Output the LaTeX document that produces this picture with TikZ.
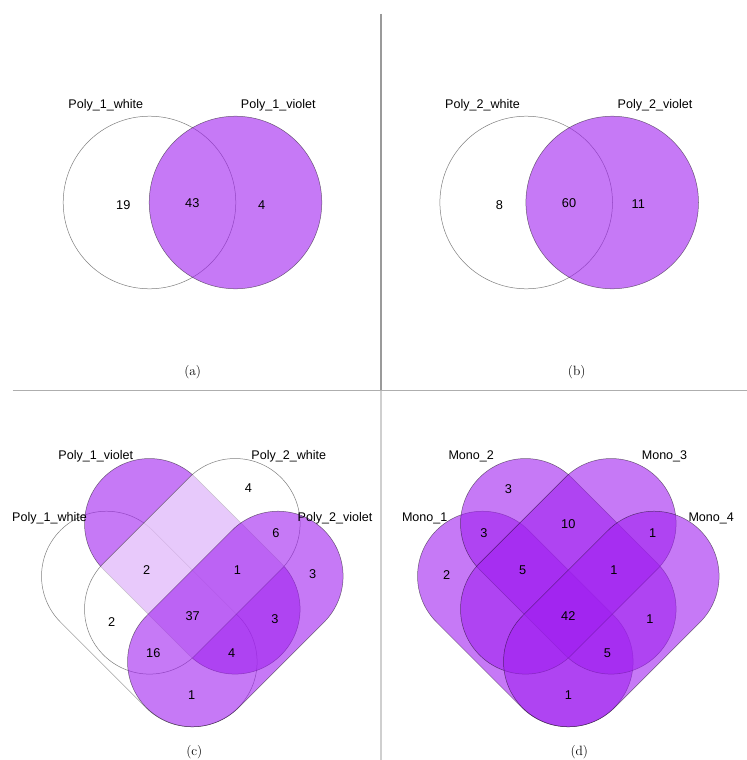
\documentclass[tikz,border=0pt]{standalone}
\usepackage{fontspec}
\setsansfont{Liberation Sans}
\definecolor{vennviolet}{HTML}{A020F0}
\definecolor{rulegray}{HTML}{9A9A9A}
\definecolor{rulelight}{HTML}{CFCFCF}

\begin{document}
\begin{tikzpicture}[x=1bp,y=-1bp]
    \tikzstyle{venn}=[draw=black,draw opacity=0.5,line width=0.5pt,fill opacity=0.6]
    \tikzstyle{violet}=[venn,fill=vennviolet]
    \tikzstyle{blank}=[venn,fill=white]
    \tikzstyle{setlabel}=[font=\sffamily\fontsize{12.6}{14}\selectfont,inner sep=0pt]
    \tikzstyle{count}=[font=\sffamily\fontsize{12.8}{14}\selectfont,inner sep=0pt]
    \tikzstyle{caption}=[font=\rmfamily\fontsize{13.5}{15}\selectfont,inner sep=0pt]
    \tikzset{lobe/.pic={\path[pic actions] (-60.5,-65) -- (60.5,-65)
        arc[start angle=-90,end angle=90,radius=65] -- (-60.5,65)
        arc[start angle=90,end angle=270,radius=65] -- cycle;}}
    \useasboundingbox (0,0) rectangle (747,760);
    % Frame
    \draw[rulegray,line width=1.2pt] (381,14) -- (381,390.7);
    \draw[rulelight,line width=1.2pt] (381,390.7) -- (381,760);
    \draw[rulegray!80,line width=0.9pt] (12.7,390.7) -- (747,390.7);
    % (a)
    \draw[blank] (149.5,202.5) circle[radius=86.3];
    \draw[violet] (235.5,202.5) circle[radius=86.3];
    \node[setlabel] (a1) at (105.8,105.5) {Poly\_1\_white};
    \node[setlabel] (a2) at (278.3,105.5) {Poly\_1\_violet};
    \node[count] (a10) at (123.3,205) {19};
    \node[count] (a11) at (192.3,203.5) {43};
    \node[count] (a01) at (261.7,205) {4};
    \node[caption] (capa) at (192.7,372) {(a)};
    % (b)
    \draw[blank] (526.2,202.5) circle[radius=86.3];
    \draw[violet] (612.2,202.5) circle[radius=86.3];
    \node[setlabel] (b1) at (482.5,105.5) {Poly\_2\_white};
    \node[setlabel] (b2) at (655,105.5) {Poly\_2\_violet};
    \node[count] (b10) at (499.3,205) {8};
    \node[count] (b11) at (569,203.5) {60};
    \node[count] (b01) at (638.3,204) {11};
    \node[caption] (capb) at (576.7,372) {(b)};
    % (c)
    \pic[blank,rotate=-45] at (149.3,619) {lobe};
    \pic[violet,rotate=-45] at (192.3,566.3) {lobe};
    \pic[blank,rotate=45] at (192.3,566.3) {lobe};
    \pic[violet,rotate=45] at (235.3,619) {lobe};
    \node[setlabel] (c2) at (95.8,456.7) {Poly\_1\_violet};
    \node[setlabel] (c3) at (288.8,456.7) {Poly\_2\_white};
    \node[setlabel] (c1) at (49.5,518.3) {Poly\_1\_white};
    \node[setlabel] (c4) at (335,518.3) {Poly\_2\_violet};
    \node[count] (c0010) at (248.3,487.7) {4};
    \node[count] (c0011) at (276,533.3) {6};
    \node[count] (c1110) at (146.7,570) {2};
    \node[count] (c0111) at (237.3,570) {1};
    \node[count] (c0001) at (312.7,574.3) {3};
    \node[count] (c1010) at (111.7,621.7) {2};
    \node[count] (c1111) at (192.7,615.7) {37};
    \node[count] (c0101) at (275,619.3) {3};
    \node[count] (c1011) at (153.3,652.7) {16};
    \node[count] (c1101) at (231.7,652.7) {4};
    \node[count] (c1001) at (191.7,695) {1};
    \node[caption] (capc) at (194.3,751.7) {(c)};
    % (d)
    \pic[violet,rotate=-45] at (525.3,619) {lobe};
    \pic[violet,rotate=-45] at (568.3,566.3) {lobe};
    \pic[violet,rotate=45] at (568.3,566.3) {lobe};
    \pic[violet,rotate=45] at (611.3,619) {lobe};
    \node[setlabel] (d2) at (471.2,456.7) {Mono\_2};
    \node[setlabel] (d3) at (664.5,456.7) {Mono\_3};
    \node[setlabel] (d1) at (424.7,518.3) {Mono\_1};
    \node[setlabel] (d4) at (711.2,518.3) {Mono\_4};
    \node[count] (d0100) at (508.3,489.3) {3};
    \node[count] (d1100) at (484,532.7) {3};
    \node[count] (d0110) at (568.3,524.3) {10};
    \node[count] (d0011) at (652.7,533.3) {1};
    \node[count] (d1000) at (446.7,575) {2};
    \node[count] (d1110) at (522.7,570) {5};
    \node[count] (d0111) at (614,570) {1};
    \node[count] (d1111) at (568.3,615.7) {42};
    \node[count] (d0101) at (650,619.3) {1};
    \node[count] (d1101) at (607.3,652.7) {5};
    \node[count] (d1001) at (568.3,695) {1};
    \node[caption] (capd) at (579.3,751.7) {(d)};
\end{tikzpicture}
\end{document}
